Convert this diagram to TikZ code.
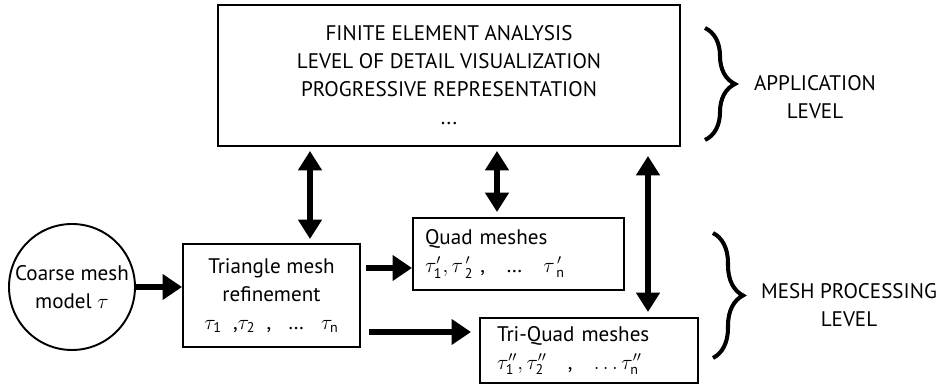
\documentclass[tikz,border=0pt]{standalone}
\usepackage{amsmath}
\usepackage{fontspec}
\setmainfont{PT Sans}
\usetikzlibrary{arrows.meta,decorations.pathreplacing}

\begin{document}
\begin{tikzpicture}[font=\fontsize{12}{15.9}\selectfont,
  box/.style={draw,line width=1.1pt,inner sep=4pt},
  fat/.style={line width=3.6pt,-{Triangle[width=14pt,length=11pt]}},
  fatboth/.style={line width=3.4pt,{Triangle[width=13pt,length=11pt]}-{Triangle[width=13pt,length=11pt]}},
  lvlbrace/.style={decorate,decoration={brace,amplitude=0.6cm},line width=2.3pt}]
\useasboundingbox (0,0) rectangle (18.84,7.72);
\node[box,minimum width=9.24cm,minimum height=2.82cm,align=center] (app) at (8.98,6.21){FINITE ELEMENT ANALYSIS\\LEVEL OF DETAIL VISUALIZATION\\PROGRESSIVE REPRESENTATION\\...};
\node[draw,circle,line width=1.1pt,minimum size=2.52cm,inner sep=0pt,align=center] (coarse) at (1.44,1.98){Coarse mesh\\model $\tau$};
\node[box,minimum width=3.54cm,minimum height=2.06cm,align=center] (tri) at (5.43,1.81){Triangle mesh\\refinement\\$\tau_{\text{1}}$\ \ ,$\tau_{\text{2}}$\ \ ,\ \ \ \dots\ \ \ $\tau_{\text{n}}$};
\node[box,inner xsep=0.24cm,text width=3.74cm,minimum height=1.44cm,align=left] (quad) at (10.37,2.64){Quad meshes\\$\tau^{\prime}_{\text{1}},\tau^{\,\prime}_{\;\text{2}}$\ ,\ \ \ \dots\ \ \ $\tau^{\,\prime}_{\;\text{n}}$};
\node[box,inner xsep=0.34cm,text width=3.68cm,minimum height=1.3cm,align=left] (triquad) at (11.78,0.71){Tri-Quad meshes\\$\tau^{\prime\prime}_{\text{1}},\tau^{\prime\prime}_{\text{2}}$\ \ \ ,\ \ \ $\dots\tau^{\prime\prime}_{\text{n}}$};
\draw[fat] (coarse.east) -- (coarse.east -| tri.west);
\coordinate (q1) at ([yshift=-0.28cm]quad.west); \draw[fat,shorten <=0.1cm] (q1 -| tri.east) -- (q1);
\coordinate (t1) at ([yshift=0.37cm]triquad.west); \draw[fat,shorten <=0.16cm,shorten >=0.16cm] (t1 -| tri.east) -- (t1);
\coordinate (v1) at ([xshift=0.77cm]tri.north); \draw[fatboth,shorten <=0.08cm,shorten >=0.08cm] (v1) -- (v1 |- app.south);
\coordinate (v2) at ([xshift=-0.43cm]quad.north); \draw[fatboth,shorten <=0.1cm,shorten >=0.08cm] (v2) -- (v2 |- app.south);
\coordinate (v3) at ([xshift=1.18cm]triquad.north); \draw[fatboth,shorten <=0.1cm,shorten >=0.18cm] (v3) -- (v3 |- app.south);
\draw[lvlbrace] (14.1,7.16) -- (14.1,4.92); \node[align=center] (applvl) at (16.3,5.78){APPLICATION\\LEVEL};
\draw[lvlbrace] (14.26,3.06) -- (14.26,0.56); \node[align=center] (meshlvl) at (16.98,1.62){MESH PROCESSING\\LEVEL};
\end{tikzpicture}
\end{document}
